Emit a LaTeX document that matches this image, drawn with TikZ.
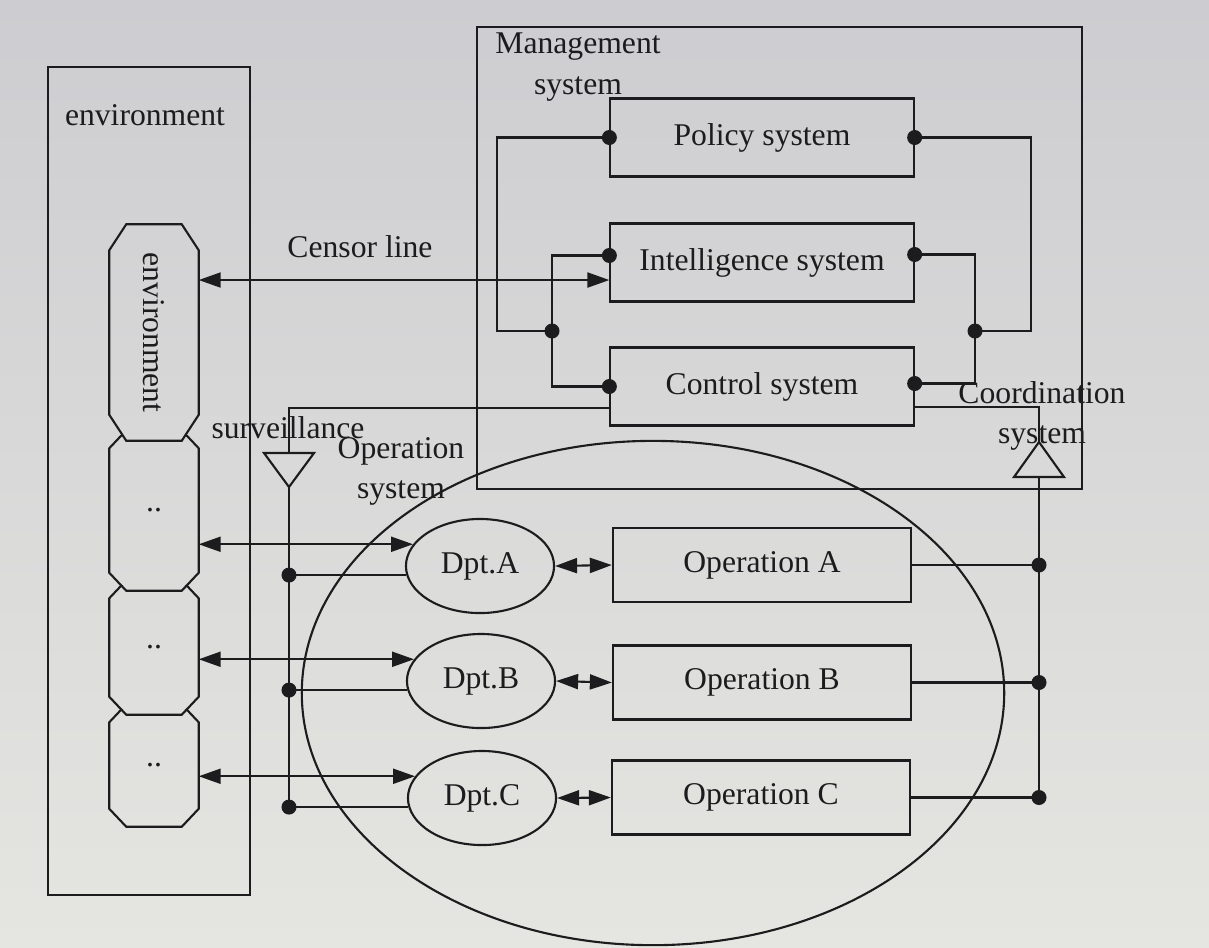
\documentclass[tikz,border=0pt]{standalone}
\usepackage{fontspec}
\setmainfont{Liberation Serif}
\usetikzlibrary{arrows.meta,calc,shapes.geometric}
\definecolor{ink}{RGB}{28,28,30}
\definecolor{papertop}{RGB}{205,205,209}
\definecolor{paperbot}{RGB}{229,229,225}

% octagonal cell drawn around a (borderless) rectangle node
\newcommand\drawchamfer[2]{%
  \draw[wire] ($(#1.north west)+(17,0)$) -- ($(#1.north east)+(-17,0)$)
    -- ($(#1.north east)+(0,#2)$) -- ($(#1.south east)+(0,-#2)$)
    -- ($(#1.south east)+(-17,0)$) -- ($(#1.south west)+(17,0)$)
    -- ($(#1.south west)+(0,-#2)$) -- ($(#1.north west)+(0,#2)$) -- cycle;}
% same, keeping only the part below a given height (cells overlap the one above)
\newcommand\drawchamferbelow[3]{%
  \begin{scope}
    \clip (0,#3) rectangle (1209,947);
    \drawchamfer{#1}{#2}
  \end{scope}}

\begin{document}
\begin{tikzpicture}[x=0.01cm,y=-0.01cm,
  every node/.style={font=\fontsize{9}{11.4}\selectfont, text=ink},
  wire/.style={draw=ink, line width=0.6pt},
  frame/.style={wire, rectangle, inner sep=0pt},
  sysbox/.style={frame, minimum width=3.03cm, minimum height=0.78cm},
  opbox/.style={frame, minimum width=2.98cm, minimum height=0.74cm},
  dptnode/.style={wire, ellipse, minimum width=1.48cm, minimum height=0.94cm, inner sep=0pt},
  cellframe/.style={rectangle, minimum width=0.88cm, inner sep=0pt},
  dot/.style={circle, fill=ink, minimum size=0.15cm, inner sep=0pt},
  twohead/.style={{Triangle[length=2.2mm,width=1.5mm]}-{Triangle[length=2.2mm,width=1.5mm]}},
  caption/.style={align=center, inner sep=0pt},
]
% paper
\shade[top color=papertop, bottom color=paperbot] (0,0) rectangle (1209,947);
\useasboundingbox (0,0) rectangle (1209,947);

% operation system region
\node[wire, ellipse, minimum width=7.02cm, minimum height=5.04cm] (opsys) at (653,693) {};

% environment column
\node[frame, minimum width=2.02cm, minimum height=8.28cm] (envbox) at (149,481) {};
\node[caption] (envlabel) at (145,115) {environment};

\node[cellframe, minimum height=2.15cm] (o1) at (154,332.5) {};
\node[rotate=-90] (o1text) at (o1) {environment};
\node[cellframe, minimum height=1.59cm] (o2) at (154,510.5) {..};
\node[cellframe, minimum height=1.33cm] (o3) at (154,647.5) {..};
\node[cellframe, minimum height=1.21cm] (o4) at (154,765.5) {..};
\drawchamfer{o1}{26}
\drawchamferbelow{o2}{18}{435}
\drawchamferbelow{o3}{18}{585.5}
\drawchamferbelow{o4}{18}{709.5}

% management system
\node[frame, minimum width=6.05cm, minimum height=4.62cm] (mgmt) at (779.5,258) {};
\node[caption] (mgmtlabel) at (578,67) {Management\\system};

\node[sysbox] (pol) at (762,137.5) {Policy system};
\node[sysbox] (int) at (762,262.5) {Intelligence system};
\node[sysbox] (ctl) at (762,386.5) {Control system};

\node[dot] (pL) at (pol.west) {};
\node[dot] (pR) at (pol.east) {};
\node[dot] (iL) at ([yshift=0.07cm]int.west) {};
\node[dot] (iR) at ([yshift=0.08cm]int.east) {};
\node[dot] (cL) at (ctl.west) {};
\node[dot] (cR) at ([yshift=0.03cm]ctl.east) {};
\node[dot] (lj) at (552,331) {};
\node[dot] (rj) at (975,331) {};
\coordinate (lo) at (497,331);
\coordinate (ro) at (1031,331);

\draw[wire] (pL.center) -| (lo) -- (lj.center);
\draw[wire] (iL.center) -| (lj.center) |- (cL.center);
\draw[wire] (pR.center) -| (ro) -- (rj.center);
\draw[wire] (iR.center) -| (rj.center) |- (cR.center);

% censor line
\coordinate (cs) at ([yshift=-0.175cm]int.west);
\draw[wire, twohead] (cs) -- (cs -| o1.east);
\node[caption] (cslabel) at (360,247) {Censor line};

% surveillance channel
\coordinate (svtop) at (289,453);
\coordinate (svtip) at (289,487);
\draw[wire] (svtop) ++(-25,0) -- ++(50,0) -- (svtip) -- cycle;
\draw[wire] ([yshift=-0.215cm]ctl.west) -| (svtop);
\node[caption] (svlabel) at (288,428) {surveillance};

% coordination channel
\coordinate (cotip) at (1039,442);
\coordinate (cobase) at (1039,477);
\draw[wire] (cobase) ++(-25,0) -- ++(50,0) -- (cotip) -- cycle;
\draw[wire] ([yshift=-0.205cm]ctl.east) -| (cotip);
\node[caption] (colabel) at (1042,416) {Coordination\\system};

\node[caption] (oplabel) at (401,471) {Operation\\system};

% departments and operations
\node[dptnode] (dA) at (480,566) {Dpt.A};
\node[dptnode] (dB) at (481,681) {Dpt.B};
\node[dptnode] (dC) at (482,798) {Dpt.C};
\node[opbox] (opA) at (762,565) {Operation A};
\node[opbox] (opB) at (762,682.5) {Operation B};
\node[opbox] (opC) at (761,797.5) {Operation C};

\foreach \d/\o/\op/\n in {dA/o2/opA/A, dB/o3/opB/B, dC/o4/opC/C} {
  \draw[wire, twohead] (\d.162 -| \o.east) -- (\d.162);
  \node[dot] (sv\n) at (\d.187 -| svtip) {};
  \draw[wire] (sv\n.center) -- (\d.187);
  \draw[wire, twohead] (\d.east) -- (\op.west);
  \node[dot] (co\n) at (\op.east -| cobase) {};
  \draw[wire] (\op.east) -- (co\n.center);
}
\draw[wire] (svtip) -- (svC.center);
\draw[wire] (cobase) -- (coC.center);
\end{tikzpicture}
\end{document}
